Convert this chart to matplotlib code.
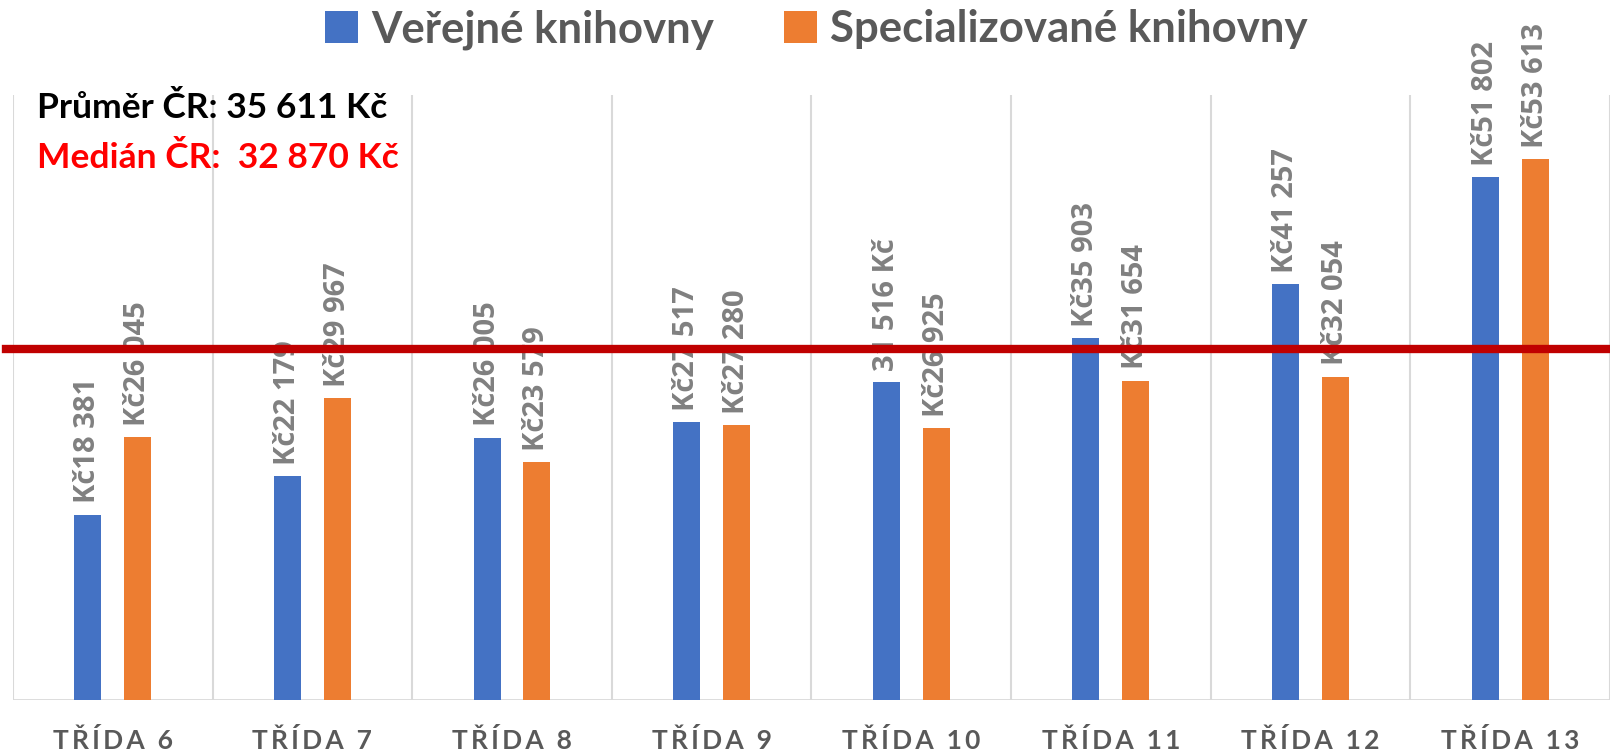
#!/usr/bin/env python3
"""Average salaries by pay class: public vs. specialized libraries."""

import matplotlib.pyplot as plt
import numpy as np

# Data
categories = ['TŘÍDA 6', 'TŘÍDA 7', 'TŘÍDA 8', 'TŘÍDA 9',
              'TŘÍDA 10', 'TŘÍDA 11', 'TŘÍDA 12', 'TŘÍDA 13']
verejne = [18381, 22179, 26005, 27517, 31516, 35903, 41257, 51802]
specializovane = [26045, 29967, 23579, 27280, 26925, 31654, 32054, 53613]
verejne_labels = ['Kč18 381', 'Kč22 179', 'Kč26 005', 'Kč27 517',
                  '31 516 Kč', 'Kč35 903', 'Kč41 257', 'Kč51 802']
specializovane_labels = ['Kč26 045', 'Kč29 967', 'Kč23 579', 'Kč27 280',
                         'Kč26 925', 'Kč31 654', 'Kč32 054', 'Kč53 613']
series_names = ['Veřejné knihovny', 'Specializované knihovny']
red_line_value = 34800
note_prumer = 'Průměr ČR: 35 611 Kč'
note_median = 'Medián ČR:  32 870 Kč'

COLORS = {
    'blue': '#4472C4',
    'orange': '#ED7D31',
    'red': '#C00000',
    'grid': '#D9D9D9',
    'label': '#808080',
    'text': '#595959',
}


def spaced(s):
    # Excel-style letter spacing on the category labels
    return '\u2009'.join(s)


fig = plt.figure(figsize=(16.1, 7.54), dpi=100)
ax = fig.add_axes([0.008, 0.0716, 0.992, 0.803])

x = np.arange(len(categories))
offset = 0.125
width = 0.135
b1 = ax.bar(x - offset, verejne, width, color=COLORS['blue'], label=series_names[0], zorder=3)
b2 = ax.bar(x + offset, specializovane, width, color=COLORS['orange'], label=series_names[1], zorder=3)

# Data labels above bars, rotated
for bars, labels in ((b1, verejne_labels), (b2, specializovane_labels)):
    for bar, lab in zip(bars, labels):
        ax.annotate(lab, (bar.get_x() + bar.get_width() / 2, bar.get_height()),
                    xytext=(0, 8), textcoords='offset points', rotation=90,
                    ha='center', va='bottom', fontsize=21, fontweight='bold',
                    color=COLORS['label'], family='Open Sans', zorder=4)

ax.set_xlim(-0.5, len(categories) - 0.5)
ax.set_ylim(0, 60000)

# vertical gridlines between categories
for b in np.arange(-0.5, len(categories) + 0.5, 1):
    ax.axvline(b, color=COLORS['grid'], lw=1.5, zorder=1)
ax.axhline(0, color=COLORS['grid'], lw=2, zorder=2)

for s in ax.spines.values():
    s.set_visible(False)
ax.set_yticks([])
ax.set_xticks(x)
ax.set_xticklabels([spaced(c) for c in categories], fontsize=19, fontweight='bold',
                   color=COLORS['text'], family=['Lato', 'DejaVu Sans'])
ax.tick_params(axis='x', length=0, pad=20)

# red reference line
ax.axhline(red_line_value, xmin=-0.004, xmax=1, color=COLORS['red'], lw=6, zorder=5, clip_on=False)

# notes
fig.text(0.023, 0.857, note_prumer, fontsize=25.5, fontweight='bold', color='black',
         family='Lato', va='center', ha='left')
fig.text(0.023, 0.791, note_median, fontsize=25.5, fontweight='bold', color='#FF0000',
         family='Lato', va='center', ha='left')

fig.legend(loc='upper center', bbox_to_anchor=(0.507, 1.04), ncol=2, frameon=False,
           prop={'family': 'Lato', 'weight': 'bold', 'size': 31.5},
           labelcolor=COLORS['text'], handlelength=0.75, handleheight=0.75,
           handletextpad=0.3, columnspacing=1.6)

fig.savefig('out.png', dpi=100, facecolor='white')
